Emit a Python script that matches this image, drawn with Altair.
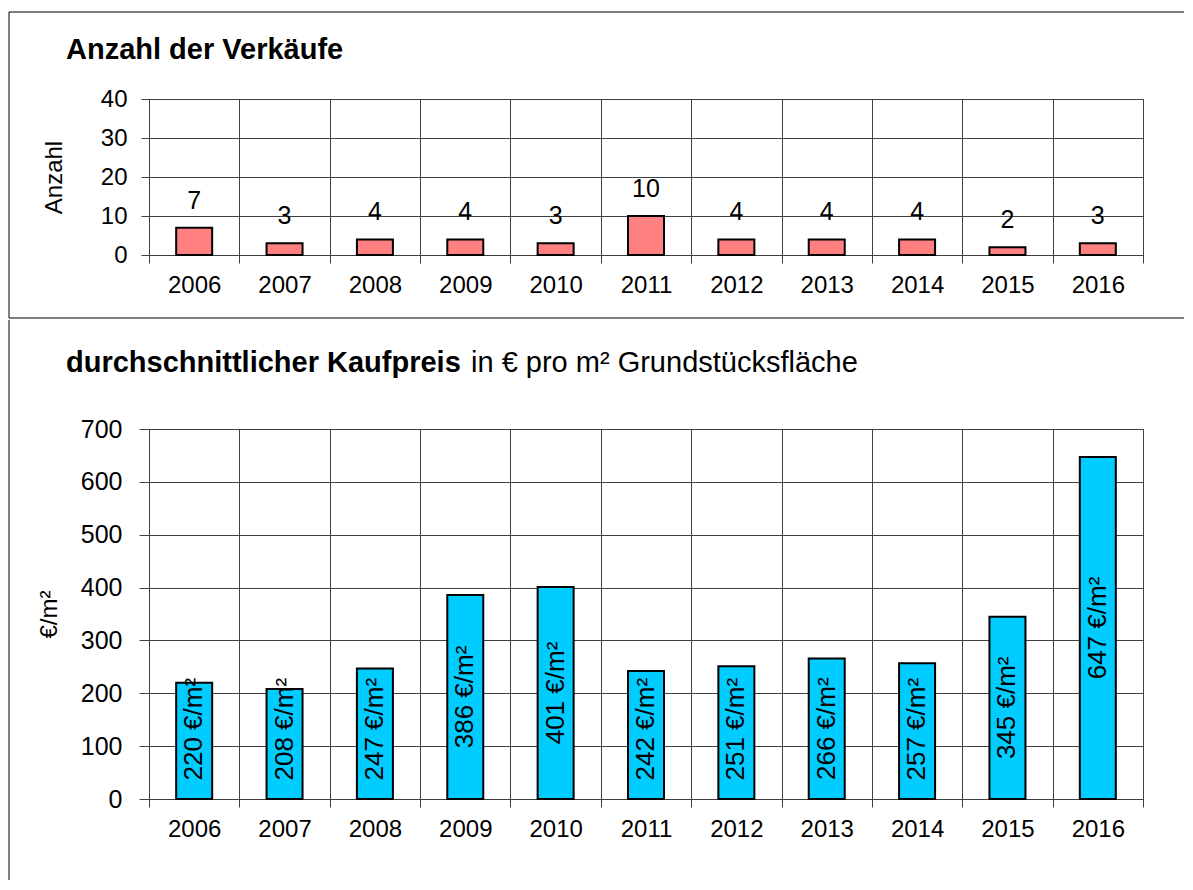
import altair as alt
import pandas as pd

# ---- data ----
years = ["2006", "2007", "2008", "2009", "2010", "2011", "2012", "2013", "2014", "2015", "2016"]
sales = [7, 3, 4, 4, 3, 10, 4, 4, 4, 2, 3]
prices = [220, 208, 247, 386, 401, 242, 251, 266, 257, 345, 647]
count_ticks = [0, 10, 20, 30, 40]
price_ticks = [0, 100, 200, 300, 400, 500, 600, 700]
title_top = "Anzahl der Verkäufe"
title_bottom_bold = "durchschnittlicher Kaufpreis"
title_bottom_rest = "in € pro m²  Grundstücksfläche"
unit_label = " €/m²"

FONT = "Liberation Sans"
W = 994
H1 = 156
H2 = 370
GRID = "#404040"

df1 = pd.DataFrame({"Jahr": years, "Anzahl": sales})
df2 = pd.DataFrame({"Jahr": years, "Preis": prices})
df2["Label"] = [f"{p}{unit_label}" for p in prices]
one = pd.DataFrame({"k": [0]})


def x_enc():
    return alt.X(
        "Jahr:N", sort=years,
        scale=alt.Scale(paddingInner=0, paddingOuter=0),
        axis=alt.Axis(title=None, labelAngle=0, tickBand="extent", grid=True,
                      gridColor=GRID, domainColor=GRID, tickColor=GRID,
                      tickSize=8, labelPadding=10, labelFontSize=24,
                      labelFont=FONT, labelColor="black"),
    )


def y_axis(values, title, h, tick, pad, tx, fs):
    return alt.Axis(values=values, tickCount=len(values) + 1, title=title, grid=True,
                    gridColor=GRID, domainColor=GRID, tickColor=GRID, tickSize=tick,
                    labelPadding=pad, labelOverlap=False, labelFontSize=fs, labelFont=FONT,
                    labelColor="black", titleFont=FONT, titleFontSize=24,
                    titleFontWeight="normal", titleColor="black", titleAngle=270,
                    titleX=tx, titleY=h / 2, titleAlign="center", titleBaseline="middle")


def rule(**kw):
    enc = {k: alt.value(v) for k, v in kw.items()}
    return alt.Chart(one).mark_rule(color="black", strokeWidth=1).encode(**enc)


# ---------------- top panel ----------------
y1 = alt.Y("Anzahl:Q", scale=alt.Scale(domain=[0, 40]),
           axis=y_axis(count_ticks, "Anzahl", H1, 8, 14, -95, 24))
bars1 = alt.Chart(df1).mark_bar(size=36, color="#FF8080", stroke="black", strokeWidth=2).encode(
    x=x_enc(), y=y1)
labels1 = alt.Chart(df1).mark_text(dy=-27, fontSize=25, font=FONT, baseline="middle",
                                   color="black").encode(
    x=alt.X("Jahr:N", sort=years), y=alt.Y("Anzahl:Q"), text="Anzahl:Q")
title1 = alt.Chart(one).mark_text(text=title_top, font=FONT, fontSize=29, fontWeight="bold",
                                  align="left", baseline="alphabetic", color="black").encode(
    x=alt.value(-83), y=alt.value(-40))

top = alt.layer(
    bars1, labels1, title1,
    rule(x=-140, x2=1035, y=-87),
    rule(x=-140, x2=1035, y=219),
    rule(x=-140, y=-87, y2=219),
).properties(width=W, height=H1)

# ---------------- bottom panel ----------------
y2 = alt.Y("Preis:Q", scale=alt.Scale(domain=[0, 700]),
           axis=y_axis(price_ticks, "€/m²", H2, 10, 17, -100, 25))
bars2 = alt.Chart(df2).mark_bar(size=36, color="#00CCFF", stroke="black", strokeWidth=2).encode(
    x=x_enc(), y=y2)
labels2 = alt.Chart(df2).transform_calculate(
    pos="max(datum.Preis / 2, 132)"
).mark_text(angle=270, fontSize=26, font=FONT, align="center", baseline="middle",
            color="black").encode(
    x=alt.X("Jahr:N", sort=years), y=alt.Y("pos:Q"), text="Label:N")
title2a = alt.Chart(one).mark_text(text=title_bottom_bold, font=FONT, fontSize=29, fontWeight="bold",
                                   align="left", baseline="alphabetic", color="black").encode(
    x=alt.value(-83), y=alt.value(-57))
title2b = alt.Chart(one).mark_text(text=title_bottom_rest, font=FONT, fontSize=29,
                                   align="left", baseline="alphabetic", color="black").encode(
    x=alt.value(322), y=alt.value(-57))

bottom = alt.layer(
    bars2, labels2, title2a, title2b,
    rule(x=-140, y=-109, y2=451),
).properties(width=W, height=H2)

chart = alt.vconcat(top, bottom, spacing=0).properties(
    padding={"left": 0, "top": 3, "right": 0, "bottom": 0}
).configure_view(stroke="#999999", strokeWidth=1)

chart.save("out.html", embed_options={"renderer": "svg", "actions": False})
